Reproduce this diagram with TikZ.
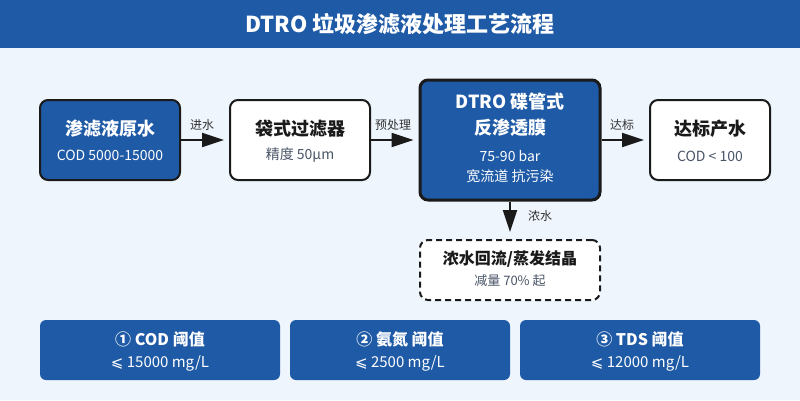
\documentclass[tikz,border=0pt]{standalone}
\usepackage{fontspec}
\setmainfont{Noto Sans CJK SC}
\newfontfamily\symfont{DejaVu Sans}
\usetikzlibrary{arrows.meta}
\definecolor{bg}{HTML}{EEF5FD}
\definecolor{blu}{HTML}{1F5AA6}
\definecolor{ink}{HTML}{1A1A1A}
\definecolor{subc}{HTML}{4A5568}
\definecolor{lblc}{HTML}{333333}
\begin{document}
\begin{tikzpicture}[x=1pt,y=-1pt,
  box/.style={rounded corners=8pt, draw=ink, line width=2pt, inner sep=0pt},
  bluebox/.style={box, fill=blu},
  whitebox/.style={box, fill=white},
  dashbox/.style={box, fill=white, dash pattern=on 6pt off 4pt},
  infobox/.style={rounded corners=6pt, fill=blu, inner sep=0pt, minimum width=#1, minimum height=60pt},
  ttlw/.style={font=\bfseries\fontsize{18}{20}\selectfont, text=white, inner sep=0pt},
  ttlk/.style={font=\bfseries\fontsize{18}{20}\selectfont, text=ink, inner sep=0pt},
  subw/.style={font=\fontsize{14}{16}\selectfont, text=white, inner sep=0pt},
  subk/.style={font=\fontsize{14}{16}\selectfont, text=subc, inner sep=0pt},
  lbl/.style={font=\fontsize{12}{14}\selectfont, text=lblc, inner sep=0pt},
  arr/.style={draw=ink, line width=2pt, -{Triangle[length=22pt,width=14pt]}, shorten >=5pt},
  infot/.style={font=\bfseries\fontsize{16}{18}\selectfont, text=white, inner sep=0pt},
  infos/.style={font=\fontsize{15}{17}\selectfont, text=white, inner sep=0pt}
]
\useasboundingbox (0,0) rectangle (800,400);
\fill[bg] (0,0) rectangle (800,400);
\fill[blu] (0,0) rectangle (800,48);
\node[font=\bfseries\fontsize{22}{24}\selectfont, text=white, inner sep=0pt] (title) at (400,24) {DTRO 垃圾渗滤液处理工艺流程};

% boxes
\node[bluebox, minimum width=140pt, minimum height=80pt] (src) at (110,140) {};
\node[whitebox, minimum width=140pt, minimum height=80pt] (flt) at (300,140) {};
\node[bluebox, line width=3pt, minimum width=180pt, minimum height=120pt] (dtro) at (510,140) {};
\node[whitebox, minimum width=120pt, minimum height=80pt] (out) at (710,140) {};
\node[dashbox, minimum width=180pt, minimum height=60pt] (conc) at (510,270) {};

% texts
\node[ttlw] (srcT) at (110,128.5) {渗滤液原水};
\node[subw] (srcS) at (110,155) {COD 5000-15000};
\node[ttlk] (fltT) at (300,128.5) {袋式过滤器};
\node[subk] (fltS) at (300,155) {精度 50μm};
\node[ttlw] (dtroT1) at (510,102) {DTRO 碟管式};
\node[ttlw] (dtroT2) at (510,128) {反渗透膜};
\node[subw] (dtroS1) at (510,156) {75-90 bar};
\node[subw] (dtroS2) at (510,176.5) {宽流道 抗污染};
\node[ttlk] (outT) at (710,128.5) {达标产水};
\node[subk] (outS) at (710,156) {COD < 100};
\node[ttlk, font=\bfseries\fontsize{16}{18}\selectfont] (concT) at (510,259.5) {浓水回流/蒸发结晶};
\node[subk, font=\fontsize{13}{15}\selectfont] (concS) at (510,281) {减量 70\% 起};

% connectors
\draw[arr] (src.east) -- (flt.west);
\draw[arr] (flt.east) -- (dtro.west);
\draw[arr] (dtro.east) -- (out.west);
\draw[arr, shorten >=7pt] (dtro.south) -- (conc.north);
\node[lbl] (l1) at (202,125) {进水};
\node[lbl] (l2) at (393,125) {预处理};
\node[lbl] (l3) at (622,125) {达标};
\node[lbl] (l4) at (540,216) {浓水};

% info boxes
\node[infobox=240pt] (i1) at (160,350) {};
\node[infobox=220pt] (i2) at (400,350) {};
\node[infobox=240pt] (i3) at (640,350) {};
\node[infot] (i1T) at (160,339) {① COD 阈值};
\node[infos] (i1S) at (160,363) {{\symfont ⩽} 15000 mg/L};
\node[infot] (i2T) at (400,339) {② 氨氮 阈值};
\node[infos] (i2S) at (400,363) {{\symfont ⩽} 2500 mg/L};
\node[infot] (i3T) at (640,339) {③ TDS 阈值};
\node[infos] (i3S) at (640,363) {{\symfont ⩽} 12000 mg/L};
\end{tikzpicture}
\end{document}
